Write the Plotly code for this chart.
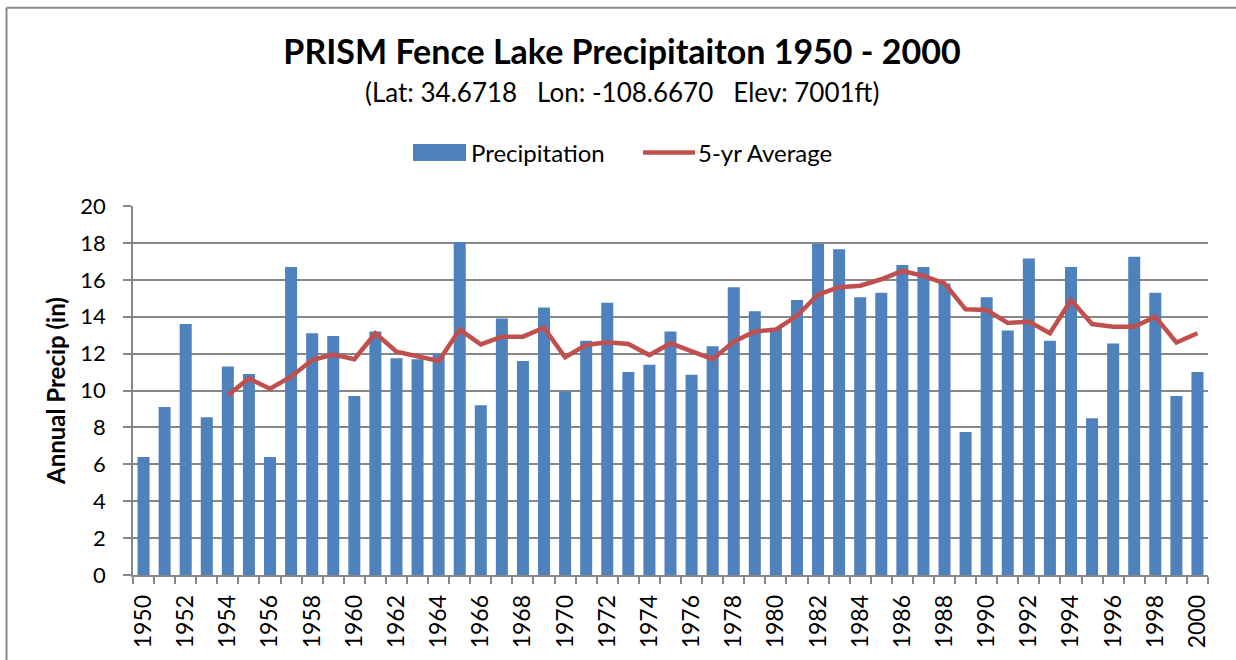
import plotly.graph_objects as go

years = list(range(1950, 2001))
precip = [6.4, 9.1, 13.6, 8.55, 11.3, 10.9, 6.4, 16.7, 13.1, 12.95,
          9.7, 13.2, 11.75, 11.7, 12.0, 18.05, 9.2, 13.9, 11.6, 14.5,
          9.95, 12.7, 14.75, 11.0, 11.4, 13.2, 10.85, 12.4, 15.6, 14.3,
          13.4, 14.9, 17.95, 17.65, 15.05, 15.3, 16.8, 16.7, 15.8, 7.75,
          15.05, 13.25, 17.15, 12.7, 16.7, 8.5, 12.55, 17.25, 15.3, 9.7,
          11.0]
avg5 = [None, None, None, None, 9.75, 10.65, 10.1, 10.75, 11.65, 11.95,
        11.7, 13.1, 12.1, 11.85, 11.6, 13.3, 12.5, 12.92, 12.92, 13.4,
        11.8, 12.47, 12.62, 12.52, 11.92, 12.56, 12.16, 11.7, 12.65, 13.2,
        13.3, 14.05, 15.2, 15.6, 15.68, 16.03, 16.48, 16.21, 15.81, 14.4,
        14.36, 13.66, 13.74, 13.1, 14.9, 13.6, 13.46, 13.46, 14.0, 12.6,
        13.1]
y_ticks = list(range(0, 21, 2))
x_ticks = list(range(1950, 2001, 2))

BLUE = "#4F81BD"
RED = "#C0504D"
GRID = "#878787"
FONT = "Lato"

fig = go.Figure()
fig.add_trace(go.Bar(x=years, y=precip, name="Precipitation",
                     marker=dict(color=BLUE, line=dict(width=0)),
                     width=0.57, showlegend=False))
fig.add_trace(go.Scatter(x=years, y=avg5, name="5-yr Average", mode="lines",
                         line=dict(color=RED, width=4.5), showlegend=False))

L, R, T, B = 133, 28, 206, 84.5
W, H = 1236, 660
pw, ph = W - L - R, H - T - B


def px(xp):
    return (xp - L) / pw


def py(yp):
    return (H - B - yp) / ph


annotations = [
    dict(text="(Lat: 34.6718\u00a0\u00a0 Lon: -108.6670\u00a0\u00a0 Elev: 7001ft)",
         xref="paper", yref="paper", x=px(622), y=py(92),
         xanchor="center", yanchor="middle", showarrow=False,
         font=dict(family=FONT, size=26, color="black")),
    dict(text="Precipitation", xref="paper", yref="paper",
         x=px(469), y=py(152), xanchor="left", yanchor="middle",
         showarrow=False, font=dict(family=FONT, size=24, color="black")),
    dict(text="5-yr Average", xref="paper", yref="paper",
         x=px(696), y=py(152), xanchor="left", yanchor="middle",
         showarrow=False, font=dict(family=FONT, size=24, color="black")),
]

shapes = [
    dict(type="line", xref="paper", yref="paper",
         x0=px(6.5), x1=px(1240), y0=py(7.5), y1=py(7.5),
         line=dict(color=GRID, width=2)),
    dict(type="line", xref="paper", yref="paper",
         x0=px(6.5), x1=px(6.5), y0=py(7.5), y1=py(665),
         line=dict(color=GRID, width=2)),
    # legend swatches
    dict(type="rect", xref="paper", yref="paper",
         x0=px(413), x1=px(466), y0=py(144), y1=py(161),
         fillcolor=BLUE, line=dict(width=0)),
    dict(type="line", xref="paper", yref="paper",
         x0=px(643), x1=px(695), y0=py(152.5), y1=py(152.5),
         line=dict(color=RED, width=4.5)),
]

fig.update_layout(
    width=W, height=H, autosize=False,
    margin=dict(l=L, r=R, t=T, b=B, pad=0),
    paper_bgcolor="white", plot_bgcolor="white",
    font=dict(family=FONT, color="black"),
    title=dict(text="PRISM Fence Lake Precipitaiton 1950 - 2000",
               font=dict(family=FONT, size=34, weight=700, color="black"),
               x=622 / W, xanchor="center", y=1 - 52 / H, yanchor="middle"),
    showlegend=False,
    bargap=0.43,
    xaxis=dict(type="linear", range=[1949.5, 2000.5],
               tickvals=x_ticks, ticktext=[str(v) for v in x_ticks],
               tickangle=-90, ticks="outside", ticklen=9,
               tickcolor="rgba(0,0,0,0)",
               tickfont=dict(family=FONT, size=23),
               showgrid=False, zeroline=False,
               showline=True, linecolor=GRID, linewidth=1.5,
               minor=dict(tick0=1949.5, dtick=1, ticks="outside",
                          ticklen=7, tickcolor=GRID, tickwidth=1.5,
                          showgrid=False)),
    yaxis=dict(range=[0, 20], tickvals=y_ticks,
               ticks="outside", ticklen=8, tickcolor=GRID, tickwidth=1.5,
               tickfont=dict(family=FONT, size=22),
               ticklabelstandoff=13,
               showgrid=True, gridcolor=GRID, gridwidth=1.5,
               zeroline=False, showline=True, linecolor=GRID, linewidth=1.5,
               title=dict(text="Annual Precip (in)",
                          font=dict(family=FONT, size=24, weight=700),
                          standoff=8)),
    annotations=annotations,
    shapes=shapes,
)

fig.write_html("out.html",
               config={"displayModeBar": False},
               post_script="document.body.style.margin='0';"
                           "document.body.style.overflow='hidden';")
